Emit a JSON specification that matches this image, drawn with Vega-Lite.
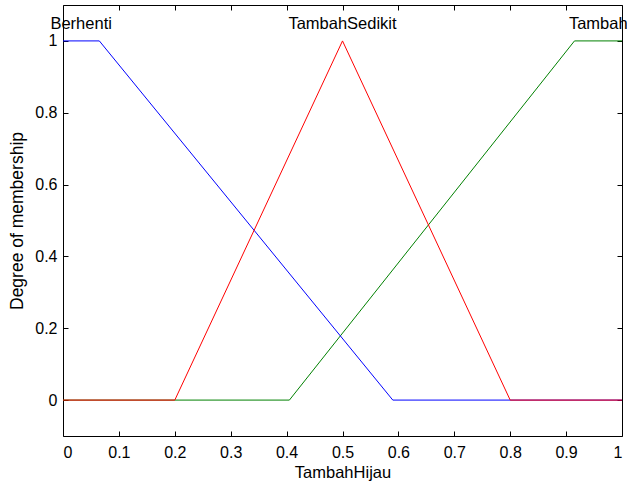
{
  "$schema": "https://vega.github.io/schema/vega-lite/v6.json",
  "width": 559,
  "height": 431,
  "autosize": "none",
  "padding": {"left": 63, "top": 5, "right": 5, "bottom": 50},
  "background": "white",
  "config": {
    "view": {"stroke": "black", "strokeWidth": 1},
    "font": "Liberation Sans",
    "axis": {
      "grid": false,
      "domain": false,
      "labelColor": "black",
      "labelFontSize": 16,
      "labelFont": "Liberation Sans",
      "titleColor": "black",
      "titleFontSize": 16.5,
      "titleFont": "Liberation Sans",
      "titleFontWeight": "normal"
    }
  },
  "datasets": {
    "mf": [
      {"mf": "Tambah", "x": 0, "y": 0},
      {"mf": "Tambah", "x": 0.405, "y": 0},
      {"mf": "Tambah", "x": 0.915, "y": 1},
      {"mf": "Tambah", "x": 1, "y": 1},
      {"mf": "Berhenti", "x": 0, "y": 1},
      {"mf": "Berhenti", "x": 0.065, "y": 1},
      {"mf": "Berhenti", "x": 0.59, "y": 0},
      {"mf": "Berhenti", "x": 1, "y": 0},
      {"mf": "TambahSedikit", "x": 0, "y": 0},
      {"mf": "TambahSedikit", "x": 0.2, "y": 0},
      {"mf": "TambahSedikit", "x": 0.5, "y": 1},
      {"mf": "TambahSedikit", "x": 0.8, "y": 0},
      {"mf": "TambahSedikit", "x": 1, "y": 0}
    ],
    "labels": [
      {"mf": "Berhenti", "x": 0.0325, "y": 1},
      {"mf": "TambahSedikit", "x": 0.5, "y": 1},
      {"mf": "Tambah", "x": 0.9575, "y": 1}
    ]
  },
  "layer": [
    {
      "data": {"name": "mf"},
      "mark": {"type": "line", "strokeWidth": 1},
      "encoding": {
        "x": {
          "field": "x", "type": "quantitative",
          "scale": {"domain": [0, 1], "nice": false, "zero": false},
          "axis": {
            "orient": "bottom",
            "values": [0, 0.1, 0.2, 0.3, 0.4, 0.5, 0.6, 0.7, 0.8, 0.9, 1],
            "format": "~g",
            "ticks": true,
            "tickColor": "black",
            "tickWidth": 1,
            "tickSize": 5,
            "offset": -5,
            "labelPadding": 8,
            "title": "TambahHijau",
            "titlePadding": 4
          }
        },
        "y": {
          "field": "y", "type": "quantitative",
          "scale": {"domain": [-0.1, 1.1], "nice": false, "zero": false},
          "axis": {
            "orient": "left",
            "values": [0, 0.2, 0.4, 0.6, 0.8, 1],
            "format": "~g",
            "ticks": true,
            "tickColor": "black",
            "tickWidth": 1,
            "tickSize": 5,
            "offset": -5,
            "labelPadding": 6,
            "title": "Degree of membership",
            "titleFontSize": 17.5,
            "titlePadding": 8
          }
        },
        "color": {
          "field": "mf", "type": "nominal",
          "scale": {"domain": ["Tambah", "Berhenti", "TambahSedikit"], "range": ["#008000", "#0000ff", "#ff0000"]},
          "legend": null
        }
      }
    },
    {
      "data": {"name": "labels"},
      "mark": {"type": "text", "dy": -12, "baseline": "alphabetic", "align": "center", "fontSize": 16.5, "color": "black", "font": "Liberation Sans"},
      "encoding": {
        "x": {
          "field": "x", "type": "quantitative",
          "scale": {"domain": [0, 1], "nice": false, "zero": false},
          "axis": {"orient": "top", "values": [0, 0.1, 0.2, 0.3, 0.4, 0.5, 0.6, 0.7, 0.8, 0.9, 1], "labels": false, "title": null, "ticks": true, "tickColor": "black", "tickWidth": 1, "tickSize": 5, "offset": -5}
        },
        "y": {
          "field": "y", "type": "quantitative",
          "scale": {"domain": [-0.1, 1.1], "nice": false, "zero": false},
          "axis": {"orient": "right", "values": [0, 0.2, 0.4, 0.6, 0.8, 1], "labels": false, "title": null, "ticks": true, "tickColor": "black", "tickWidth": 1, "tickSize": 5, "offset": -5}
        },
        "text": {"field": "mf"}
      }
    }
  ],
  "resolve": {"axis": {"x": "independent", "y": "independent"}}
}
